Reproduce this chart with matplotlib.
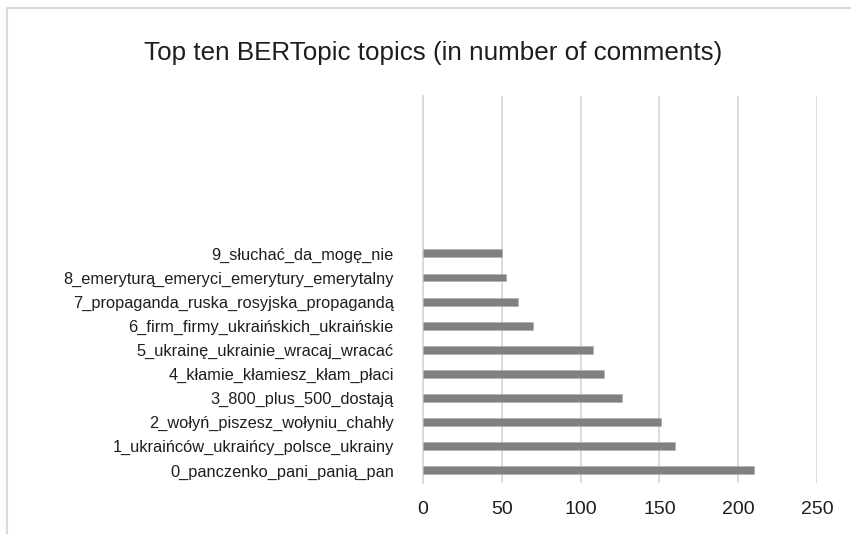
import matplotlib
matplotlib.use("Agg")
import matplotlib.pyplot as plt
from matplotlib.patches import Rectangle

# Topic labels, bottom to top as they appear on the chart.
topics = [
    "0_panczenko_pani_panią_pan",
    "1_ukraińców_ukraińcy_polsce_ukrainy",
    "2_wołyń_piszesz_wołyniu_chahły",
    "3_800_plus_500_dostają",
    "4_kłamie_kłamiesz_kłam_płaci",
    "5_ukrainę_ukrainie_wracaj_wracać",
    "6_firm_firmy_ukraińskich_ukraińskie",
    "7_propaganda_ruska_rosyjska_propagandą",
    "8_emeryturą_emeryci_emerytury_emerytalny",
    "9_słuchać_da_mogę_nie",
]

# Number of comments per topic.
counts = [210, 160, 151, 126, 115, 108, 70, 60, 53, 50]

# Value axis ticks.
xticks = [0, 50, 100, 150, 200, 250]

plt.rcParams["font.family"] = ["Liberation Sans", "DejaVu Sans"]
text_col = "#1e1e1e"
grid_col = "#d9d9d9"

fig = plt.figure(figsize=(8.51, 5.34), dpi=100, facecolor="w")
ax = fig.add_axes([0.497, 0.0961, 0.463, 0.7247])

ypos = list(range(len(topics)))
ax.barh(ypos, counts, height=0.33, color="#808080", edgecolor="#b0b0b0",
        linewidth=0.5, zorder=3)

ax.set_xlim(0, 250)
ax.set_ylim(-0.51, 15.54)
ax.set_xticks(xticks)
ax.set_xticklabels([str(t) for t in xticks], fontsize=14, color=text_col)
ax.set_yticks(ypos)
ax.set_yticklabels(topics, fontsize=11.8, color=text_col)
ax.tick_params(axis="x", length=0, pad=13)
ax.tick_params(axis="y", length=0, pad=21)

# Vertical gridlines only, Excel style.
ax.grid(axis="x", color=grid_col, linewidth=1.3, zorder=0)
for s in ["top", "right", "bottom"]:
    ax.spines[s].set_visible(False)
ax.spines["left"].set_color(grid_col)
ax.spines["left"].set_linewidth(1.3)

fig.text(0.509, 0.900, "Top ten BERTopic topics (in number of comments)",
         ha="center", va="center", fontsize=18.7, color=text_col)

# Chart area border (cut off at right and bottom in the original).
fig.patches.append(Rectangle((6.5 / 851, -0.1), 1.2, 1.1 - 8.5 / 534,
                             transform=fig.transFigure, fill=False,
                             edgecolor=grid_col, linewidth=1.5))

fig.savefig("out.png", dpi=100)
